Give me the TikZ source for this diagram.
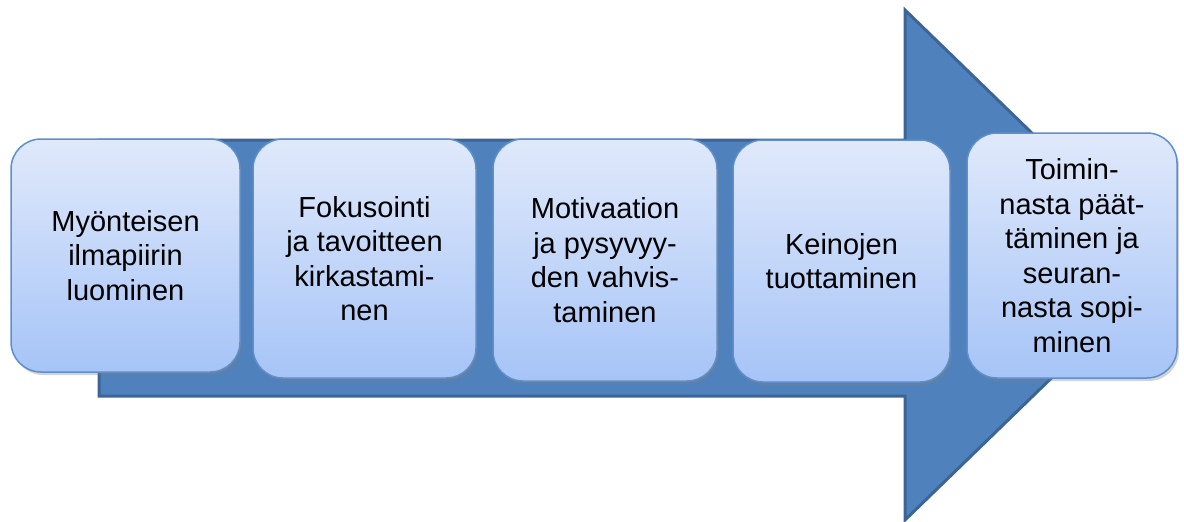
\documentclass[tikz,border=0pt]{standalone}
\usepackage{fontspec}
\setmainfont{Liberation Sans}
\usetikzlibrary{shadows}

\definecolor{arrowblue}{HTML}{4F81BD}
\definecolor{arrowedge}{HTML}{3C6496}
\definecolor{boxtop}{HTML}{E0E9FB}
\definecolor{boxbottom}{HTML}{A6C4F7}
\definecolor{boxedge}{HTML}{5F8FCB}

\begin{document}
\begin{tikzpicture}[x = 1pt, y = -1pt,
every node/.style = {font = \fontsize{29}{34.5}\selectfont, align = center}]

\tikzset{
	phase/.style = {
		draw = boxedge, line width = 1.5pt, rounded corners = 30pt,
		top color = boxtop, bottom color = boxbottom, inner sep = 0pt,
		drop shadow = {opacity = 0.35, shadow xshift = 2pt, shadow yshift = -3pt}
	}
}

\useasboundingbox (0,0) rectangle (1184,522);

% Iso nuoli taustalla
\draw[arrowedge, line width = 3pt, fill = arrowblue, line join = miter]
	(99,140) -- (905,140) -- (905,10) -- (1168,265) -- (905,520)
	-- (905,396) -- (99,396) -- cycle;

% Vaiheet
\node[phase, minimum width = 229pt, minimum height = 233pt] (ilmapiiri) at (125.5,255.5)
	{Myönteisen\\ilmapiirin\\luominen};
\node[phase, minimum width = 223pt, minimum height = 239pt] (fokus) at (364.5,258.5)
	{Fokusointi\\ja tavoitteen\\kirkastami-\\nen};
\node[phase, minimum width = 224pt, minimum height = 242pt] (motivaatio) at (605,260)
	{Motivaation\\ja pysyvyy-\\den vahvis-\\taminen};
\node[phase, minimum width = 217pt, minimum height = 242pt] (keinot) at (841.5,261)
	{Keinojen\\tuottaminen};
\node[phase, minimum width = 210pt, minimum height = 245pt] (seuranta) at (1072,255.5)
	{Toimin-\\nasta päät-\\täminen ja\\seuran-\\nasta sopi-\\minen};
\end{tikzpicture}
\end{document}
